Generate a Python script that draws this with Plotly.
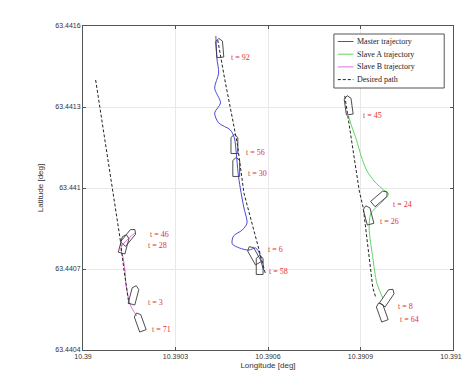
import math
import plotly.graph_objects as go

# ---------------- data (lon/lat in degrees) ----------------
desired_left_lon = [10.390041, 10.390120, 10.390133, 10.390149]
desired_left_lat = [63.441400, 63.440815, 63.440696, 63.440570]
desired_mid_lon = [10.390437, 10.390459, 10.390500, 10.390522, 10.390592]
desired_mid_lat = [63.441548, 63.441407, 63.441167, 63.440981, 63.440681]
desired_right_lon = [10.390849, 10.390896, 10.390909, 10.390940, 10.390950]
desired_right_lat = [63.441341, 63.440989, 63.440926, 63.440630, 63.440593]

master_lon = [10.390431, 10.390434, 10.390440, 10.390427, 10.390446, 10.390427, 10.390440,
              10.390478, 10.390491, 10.390497, 10.390503, 10.390510, 10.390522, 10.390532,
              10.390516, 10.390488, 10.390484, 10.390507, 10.390538, 10.390560, 10.390573,
              10.390579, 10.390586]
master_lat = [63.441563, 63.441481, 63.441426, 63.441370, 63.441315, 63.441278, 63.441241,
              63.441215, 63.441185, 63.441130, 63.441056, 63.441000, 63.440926, 63.440870,
              63.440844, 63.440822, 63.440793, 63.440778, 63.440770, 63.440778, 63.440756,
              63.440722, 63.440696]

slaveA_lon = [10.390861, 10.390871, 10.390887, 10.390902, 10.390921, 10.390947, 10.390975,
              10.390991, 10.390966, 10.390934, 10.390928, 10.390940, 10.390953, 10.390972]
slaveA_lat = [63.441267, 63.441230, 63.441178, 63.441119, 63.441063, 63.441022, 63.440993,
              63.440978, 63.440944, 63.440907, 63.440852, 63.440741, 63.440648, 63.440593]

slaveB_lon = [10.390168, 10.390142, 10.390123, 10.390130, 10.390136, 10.390139, 10.390146,
              10.390155, 10.390174]
slaveB_lat = [63.440833, 63.440807, 63.440778, 63.440741, 63.440696, 63.440648, 63.440600,
              63.440563, 63.440526]

# vessel snapshots: centre, heading (deg, clockwise from north), time label
vessel_lon = [10.390149, 10.390133, 10.390165, 10.390184,
              10.390443, 10.390491, 10.390497, 10.390554, 10.390573,
              10.390861, 10.390963, 10.390925, 10.390988, 10.390969]
vessel_lat = [63.440819, 63.440793, 63.440604, 63.440504,
              63.441519, 63.441163, 63.441078, 63.440752, 63.440715,
              63.441307, 63.440963, 63.440900, 63.440596, 63.440541]
vessel_heading = [40, 15, 15, -20,
                  -5, 0, 0, -30, 0,
                  -8, 50, -15, 35, -20]
vessel_labels = ["t = 46", "t = 28", "t = 3", "t = 71",
                 "t = 92", "t = 56", "t = 30", "t = 6", "t = 58",
                 "t = 45", "t = 24", "t = 26", "t = 8", "t = 64"]

legend_names = ["Master trajectory", "Slave A trajectory", "Slave B trajectory", "Desired path"]

x_ticks = [10.39, 10.3903, 10.3906, 10.3909, 10.3912]
x_ticktext = ["10.39", "10.3903", "10.3906", "10.3909", "10.3912"]
y_ticks = [63.4404, 63.4407, 63.441, 63.4413, 63.4416]
y_ticktext = ["63.4404", "63.4407", "63.441", "63.4413", "63.4416"]

# ---------------- layout constants ----------------
W, H = 470, 374
ML, MR, MT, MB = 75, 16, 18, 32
PW, PH = W - ML - MR, H - MT - MB
XR = [10.39, 10.3912]
YR = [63.4404, 63.4416]
DLON_PER_PX = (XR[1] - XR[0]) / PW
DLAT_PER_PX = (YR[1] - YR[0]) / PH
HULL_L, HULL_B, BOW = 19, 7, 3
label_shift = [(19, -2), (22, 2), (12, 8), (10, 8),
               (9, 10), (10, 9), (10, 7), (12, -5), (7, 7),
               (13, 10), (11, 7), (10, 6), (8, 9), (16, 8)]

C_MASTER, C_A, C_B, C_PATH = "#4a4ad8", "#62d562", "#e070e0", "#222222"
PATH_DASH = "3px,2px"
SERIF = "Liberation Serif, Times New Roman, serif"
SANS = "Liberation Sans, Arial, sans-serif"

fig = go.Figure()


def hull(lon, lat, hdg):
    h = math.radians(hdg)
    fwd = (math.sin(h), -math.cos(h))
    stb = (math.cos(h), math.sin(h))
    L, B = HULL_L, HULL_B
    local = [(-L / 2, -B / 2), (L / 2 - BOW, -B / 2), (L / 2, 0), (L / 2 - BOW, B / 2),
             (-L / 2, B / 2), (-L / 2, -B / 2)]
    xs, ys = [], []
    for u, v in local:
        dx = u * fwd[0] + v * stb[0]
        dy = u * fwd[1] + v * stb[1]
        xs.append(lon + dx * DLON_PER_PX)
        ys.append(lat - dy * DLAT_PER_PX)
    return xs, ys


# trajectories
fig.add_trace(go.Scatter(x=master_lon, y=master_lat, mode="lines", name=legend_names[0],
                         line=dict(color=C_MASTER, width=1, shape="spline", smoothing=0.8)))
fig.add_trace(go.Scatter(x=slaveA_lon, y=slaveA_lat, mode="lines", name=legend_names[1],
                         line=dict(color=C_A, width=1, shape="spline", smoothing=0.8)))
fig.add_trace(go.Scatter(x=slaveB_lon, y=slaveB_lat, mode="lines", name=legend_names[2],
                         line=dict(color=C_B, width=1, shape="spline", smoothing=0.8)))

# desired paths
for lo, la in [(desired_left_lon, desired_left_lat), (desired_mid_lon, desired_mid_lat),
               (desired_right_lon, desired_right_lat)]:
    fig.add_trace(go.Scatter(x=lo, y=la, mode="lines", name=legend_names[3],
                             line=dict(color=C_PATH, width=1, dash=PATH_DASH)))

# vessels
for lo, la, hd in zip(vessel_lon, vessel_lat, vessel_heading):
    xs, ys = hull(lo, la, hd)
    fig.add_trace(go.Scatter(x=xs, y=ys, mode="lines", hoverinfo="skip",
                             line=dict(color="#3a3a3a", width=0.9)))

for lo, la, txt, (sx, sy) in zip(vessel_lon, vessel_lat, vessel_labels, label_shift):
    fig.add_annotation(x=lo, y=la, text=txt, showarrow=False, xanchor="left", yanchor="middle",
                       xshift=sx, yshift=-sy, font=dict(family=SERIF, size=8, color="#e03434"))

# compact legend drawn by hand (MATLAB-like)
def px_x(px):
    return (px - ML) / PW


def px_y(py):
    return 1 - (py - MT) / PH


fig.add_shape(type="rect", xref="paper", yref="paper",
              x0=px_x(332), x1=px_x(445), y0=px_y(80), y1=px_y(26),
              line=dict(color="#555555", width=1), fillcolor="white", layer="above")
legend_styles = [(C_MASTER, "solid"), (C_A, "solid"), (C_B, "solid"), (C_PATH, PATH_DASH)]
for i, (name, (col, dsh)) in enumerate(zip(legend_names, legend_styles)):
    yy = px_y(33.5 + i * 12.7)
    fig.add_shape(type="line", xref="paper", yref="paper", x0=px_x(336), x1=px_x(352),
                  y0=yy, y1=yy, line=dict(color=col, width=1, dash=dsh), layer="above")
    fig.add_annotation(xref="paper", yref="paper", x=px_x(354), y=yy, text=name,
                       showarrow=False, xanchor="left", yanchor="middle",
                       font=dict(family=SERIF, size=8, color="#222222"))

axis_common = dict(showline=True, linecolor="#555555", linewidth=1, mirror="ticks",
                   ticks="inside", ticklen=3, tickcolor="#555555",
                   showgrid=True, gridcolor="#e8e8e8", gridwidth=1, zeroline=False,
                   tickfont=dict(family=SANS, size=7, color="#333333"))

fig.update_layout(
    width=W, height=H,
    margin=dict(l=ML, r=MR, t=MT, b=MB),
    paper_bgcolor="white", plot_bgcolor="white",
    showlegend=False,
    xaxis=dict(range=XR, tickvals=x_ticks, ticktext=x_ticktext,
               title=dict(text="Longitude [deg]", font=dict(family=SANS, size=8, color="#333333"),
                          standoff=2),
               **axis_common),
    yaxis=dict(range=YR, tickvals=y_ticks, ticktext=y_ticktext,
               title=dict(text="Latitude [deg]", font=dict(family=SANS, size=8, color="#333333"),
                          standoff=10),
               **axis_common),
)

fig.write_html("out.html")
